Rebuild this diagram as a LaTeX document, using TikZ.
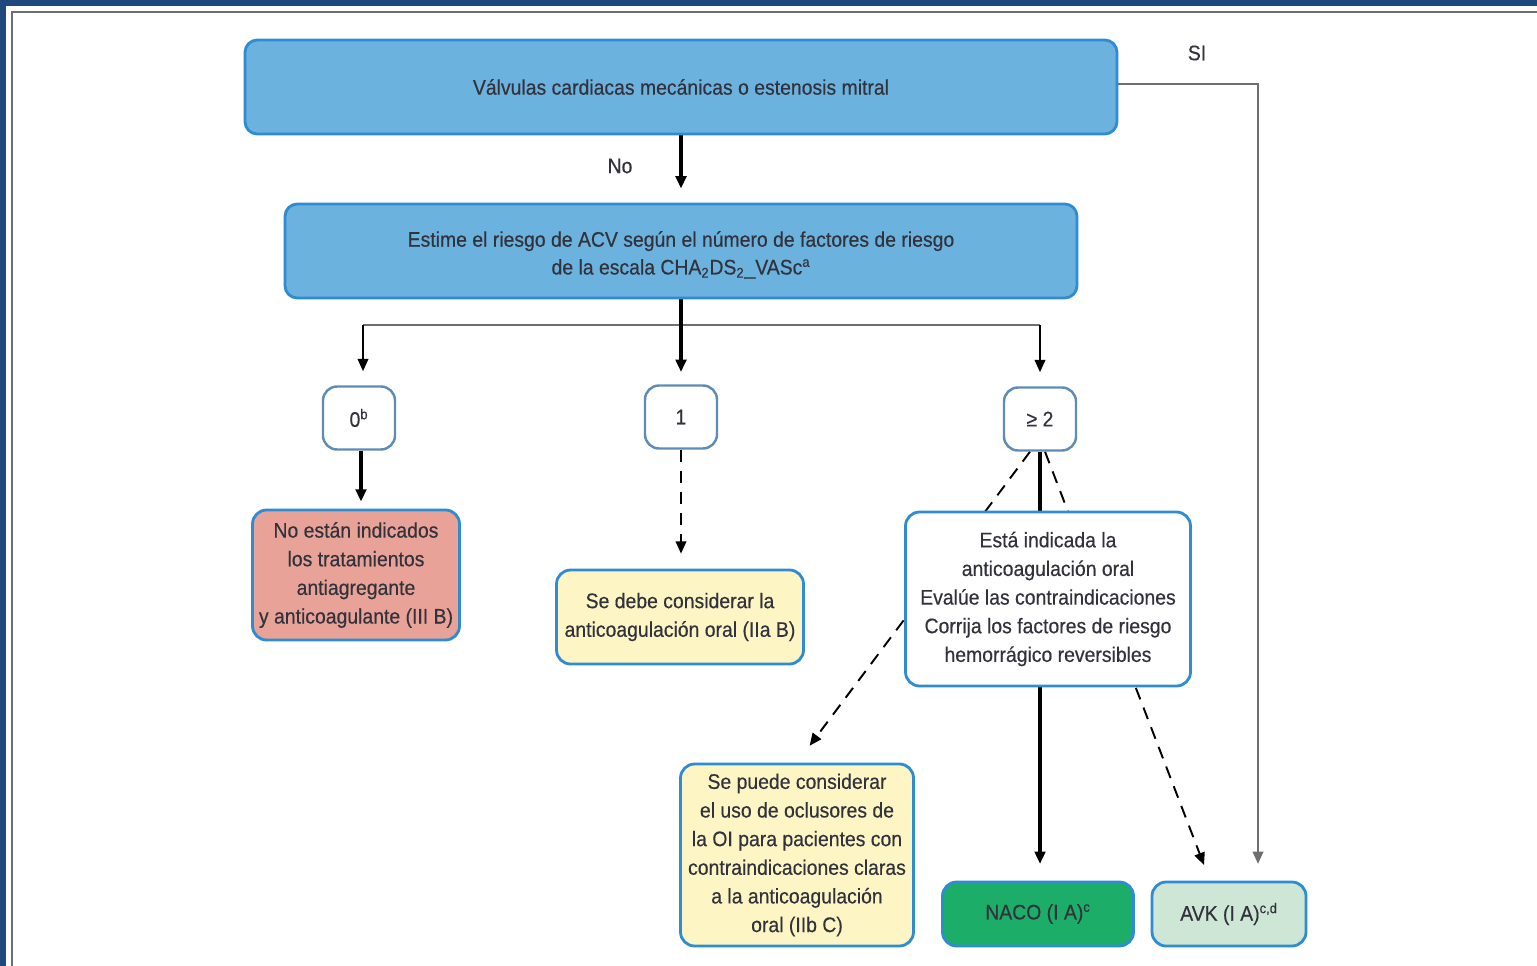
\documentclass[tikz,border=0pt]{standalone}
\usepackage{fontspec}
\setmainfont{Liberation Sans}[FakeStretch=0.92,FakeBold=0.4]
\usetikzlibrary{arrows.meta}
\pgfdeclarelayer{bg}
\pgfsetlayers{bg,main}
\definecolor{frameblue}{RGB}{31,73,125}
\definecolor{topblue}{RGB}{108,178,222}
\definecolor{edgeblue}{RGB}{48,140,210}
\definecolor{smalledge}{RGB}{95,140,180}
\definecolor{txt}{RGB}{50,50,60}
\definecolor{redfill}{RGB}{232,162,152}
\definecolor{yelfill}{RGB}{253,246,196}
\definecolor{greenfill}{RGB}{28,174,104}
\definecolor{avkfill}{RGB}{206,230,214}
\definecolor{linegray}{RGB}{110,110,110}
\begin{document}
\begin{tikzpicture}[x=0.02cm,y=-0.02cm,
  every node/.style={text=txt, font=\fontsize{12}{16.3}\selectfont, align=center, inner sep=0pt},
  bluebox/.style={fill=topblue, draw=edgeblue, line width=1.6pt, rounded corners=7pt},
  smallbox/.style={fill=white, draw=smalledge, line width=1.4pt, rounded corners=8pt},
  resbox/.style={draw=edgeblue, line width=1.6pt, rounded corners=8pt},
  tip/.style={-{Triangle[length=7pt,width=6pt]}},
  thick arrow/.style={tip, line width=1.9pt, black},
  thin arrow/.style={tip, line width=1.1pt, black},
  dash arrow/.style={tip, line width=1.1pt, black, dash pattern=on 7pt off 5pt},
  grayline/.style={line width=1.1pt, linegray}
]
\useasboundingbox (0,0) rectangle (1537,966);

% nodes
\node[bluebox, minimum width={872*0.02cm}, minimum height={94*0.02cm}] (top) at (681,87)
  {Válvulas cardiacas mecánicas o estenosis mitral};
\node[bluebox, minimum width={792*0.02cm}, minimum height={94*0.02cm}] (est) at (681,251)
  {\raisebox{-2.2pt}[\height][\depth]{\begin{tabular}{@{}c@{}}Estime el riesgo de ACV según el número de factores de riesgo\\[-0.5pt]de la escala CHA\textsubscript{2}DS\textsubscript{2}\_VASc\textsuperscript{a}\end{tabular}}};

\node[smallbox, minimum width={72*0.02cm}, minimum height={63*0.02cm}] (zero) at (359,418) {0\textsuperscript{b}};
\node[smallbox, minimum width={72*0.02cm}, minimum height={63*0.02cm}] (one) at (681,417) {1};
\node[smallbox, minimum width={72*0.02cm}, minimum height={63*0.02cm}] (ge) at (1040,419) {≥ 2};

\node[resbox, fill=redfill, minimum width={207*0.02cm}, minimum height={130*0.02cm}] (red) at (356,575)
  {No están indicados\\los tratamientos\\antiagregante\\y anticoagulante (III B)};
\node[resbox, fill=yelfill, minimum width={247*0.02cm}, minimum height={94*0.02cm}] (yel) at (680,617)
  {Se debe considerar la\\anticoagulación oral (IIa B)};
\node[resbox, fill=white, minimum width={285*0.02cm}, minimum height={174*0.02cm}] (big) at (1048,599)
  {Está indicada la\\anticoagulación oral\\Evalúe las contraindicaciones\\Corrija los factores de riesgo\\hemorrágico reversibles};
\node[resbox, fill=yelfill, minimum width={233*0.02cm}, minimum height={182*0.02cm}] (oi) at (797,855)
  {Se puede considerar\\el uso de oclusores de\\la OI para pacientes con\\contraindicaciones claras\\a la anticoagulación\\oral (IIb C)};
\node[resbox, fill=greenfill, minimum width={191*0.02cm}, minimum height={64*0.02cm}] (naco) at (1038,914)
  {NACO (I A)\textsuperscript{c}};
\node[resbox, fill=avkfill, minimum width={154*0.02cm}, minimum height={64*0.02cm}] (avk) at (1229,914)
  {AVK (I A)\textsuperscript{c,d}};

\node (no) at (620,166) {No};
\node (si) at (1197,53) {SI};

\coordinate (hl) at (363,325);
\coordinate (hr) at (1040,325);

\begin{pgfonlayer}{bg}
\fill[white] (0,0) rectangle (1537,966);
% frame
\fill[frameblue] (0,0) rectangle (1537,6);
\fill[frameblue] (0,0) rectangle (6,966);
\draw[linegray, line width=1pt] (12,966) -- (12,12) -- (1537,12);
% connectors
\draw[thick arrow, shorten >=8pt] (top.south) -- (est.north);
\draw[grayline, tip, shorten >=9.5pt] (top.east |- 0,84) -| ([xshift={29*0.02cm}]avk.north);
\draw[grayline] (hl) -- (hr);
\draw[thick arrow, shorten >=7pt] (est.south) -- (one.north);
\draw[thin arrow, shorten >=8pt] (hl) -- (hl |- zero.north);
\draw[thin arrow, shorten >=8pt] (hr) -- (hr |- ge.north);
\draw[thick arrow, shorten >=4pt] ([xshift={2*0.02cm}]zero.south) -- ([xshift={2*0.02cm}]zero.south |- red.north);
\draw[dash arrow, shorten >=8.5pt] (one.south) -- (one.south |- yel.north);
\draw[thick arrow, shorten >=9.5pt] (ge.south) -- (ge.south |- naco.north);
\draw[dash arrow, shorten >=12pt] ([xshift={-10*0.02cm}]ge.south) -- (oi.north);
\draw[dash arrow, shorten >=9.5pt] ([xshift={5*0.02cm}]ge.south) -- ([xshift={-19*0.02cm}]avk.north);
\end{pgfonlayer}
\end{tikzpicture}
\end{document}
